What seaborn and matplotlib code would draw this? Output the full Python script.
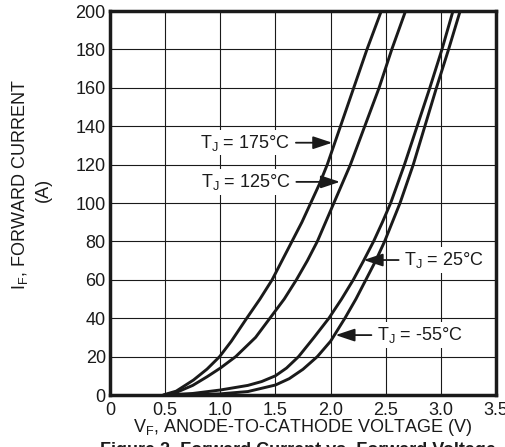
import matplotlib
matplotlib.use("Agg")
import matplotlib.pyplot as plt
import seaborn as sns
import pandas as pd

# ---- data ----
vf_175 = [0.48, 0.6, 0.757, 0.88, 0.994, 1.1, 1.24, 1.36, 1.47, 1.56, 1.65, 1.74, 1.82, 1.90, 1.97, 2.09, 2.21, 2.33, 2.46]
if_175 = [0, 2, 7.8, 13.5, 20, 28, 40, 50, 60, 70, 80, 90, 100, 110, 120, 140, 160, 180, 200]

vf_125 = [0.5, 0.62, 0.75, 0.88, 1.0, 1.14, 1.32, 1.45, 1.58, 1.69, 1.79, 1.88, 2.03, 2.18, 2.31, 2.44, 2.555, 2.68]
if_125 = [0, 1.8, 5, 9.5, 14, 20, 30, 40, 50, 60, 70, 80, 100, 120, 140, 160, 180, 200]

vf_25 = [0.5, 0.75, 1.0, 1.25, 1.375, 1.5, 1.6, 1.71, 1.85, 1.985, 2.1, 2.206, 2.30, 2.39, 2.47, 2.545, 2.67, 2.785, 2.90, 3.01, 3.11]
if_25 = [0, 0.8, 2.6, 5, 7, 10, 14, 20, 30, 40, 50, 60, 70, 80, 90, 100, 120, 140, 160, 180, 200]

vf_m55 = [0.55, 0.75, 1.0, 1.25, 1.5, 1.625, 1.75, 1.88, 2.0, 2.13, 2.23, 2.32, 2.41, 2.49, 2.56, 2.63, 2.75, 2.855, 2.96, 3.07, 3.175]
if_m55 = [0, 0.2, 0.6, 1.8, 5.2, 8.5, 13.4, 20, 28, 40, 50, 60, 70, 80, 90, 100, 120, 140, 160, 180, 200]

x_ticks = [0, 0.5, 1.0, 1.5, 2.0, 2.5, 3.0, 3.5]
x_labels = ["0", "0.5", "1.0", "1.5", "2.0", "2.5", "3.0", "3.5"]
y_ticks = [0, 20, 40, 60, 80, 100, 120, 140, 160, 180, 200]

labels = ["175", "125", "25", "-55"]
label_text = [r"$\mathregular{T_J}$ = 175°C", r"$\mathregular{T_J}$ = 125°C",
              r"$\mathregular{T_J}$ = 25°C", r"$\mathregular{T_J}$ = -55°C"]

frames = []
for name, xs, ys in [("175", vf_175, if_175), ("125", vf_125, if_125),
                     ("25", vf_25, if_25), ("-55", vf_m55, if_m55)]:
    frames.append(pd.DataFrame({"vf": xs, "if": ys, "tj": name}))
df = pd.concat(frames, ignore_index=True)

sns.set_theme(style="white")
plt.rcParams["font.family"] = ["Liberation Sans", "DejaVu Sans"]
plt.rcParams["mathtext.fontset"] = "custom"
plt.rcParams["mathtext.rm"] = "Liberation Sans"

W, H = 505, 447
fig = plt.figure(figsize=(W / 100, H / 100), dpi=100)
ax = fig.add_axes([110 / W, (H - 395) / H, (496 - 110) / W, (395 - 11) / H])

sns.lineplot(data=df, x="vf", y="if", hue="tj", units="tj", estimator=None, sort=False,
             palette={k: "#1a1a1a" for k in labels}, linewidth=2.1, legend=False, ax=ax, zorder=3)
for ln in ax.lines:
    ln.set_solid_joinstyle("round")
    ln.set_solid_capstyle("butt")

ax.set_xlim(0, 3.5)
ax.set_ylim(0, 200)
ax.set_xticks(x_ticks)
ax.set_xticklabels(x_labels)
ax.set_yticks(y_ticks)
ax.tick_params(axis="both", length=0, labelsize=13, colors="#1a1a1a")
ax.tick_params(axis="y", pad=3)
ax.tick_params(axis="x", pad=5)
ax.grid(True, color="#1a1a1a", linewidth=0.8)
for s in ax.spines.values():
    s.set_linewidth(2.5)
    s.set_color("#1a1a1a")
ax.set_xlabel("")
ax.set_ylabel("")

# annotations
ann = [
    (label_text[0], (2.015, 131.4), (1.636, 131.4), "right"),
    (label_text[1], (2.085, 111.0), (1.64, 111.0), "right"),
    (label_text[2], (2.30, 70.3), (2.667, 70.3), "left"),
    (label_text[3], (2.045, 31.2), (2.42, 31.2), "left"),
]
for txt, xy, xyt, ha in ann:
    ax.annotate(txt, xy=xy, xytext=xyt, ha=ha, va="center", fontsize=13, color="#1a1a1a",
                bbox=dict(boxstyle="square,pad=0.15", fc="white", ec="none"),
                arrowprops=dict(arrowstyle="-|>,head_length=0.9,head_width=0.3", color="#1a1a1a",
                                lw=1.3, shrinkA=2, shrinkB=0), zorder=4)

fig.text(303 / W, 1 - 428 / H, r"$\mathregular{V_F}$, ANODE-TO-CATHODE VOLTAGE (V)",
         ha="center", va="center", fontsize=13, color="#1a1a1a")
fig.text(20 / W, 1 - 185 / H, r"$\mathregular{I_F}$, FORWARD CURRENT", rotation=90,
         ha="center", va="center", fontsize=13, color="#1a1a1a")
fig.text(43 / W, 1 - 190 / H, "(A)", rotation=90,
         ha="center", va="center", fontsize=13, color="#1a1a1a")
fig.text(100 / W, 1 - 442 / H, "Figure 2. Forward Current vs. Forward Voltage",
         ha="left", va="top", fontsize=13, fontweight="bold", color="#1a1a1a")

fig.savefig("out.png", dpi=100)
